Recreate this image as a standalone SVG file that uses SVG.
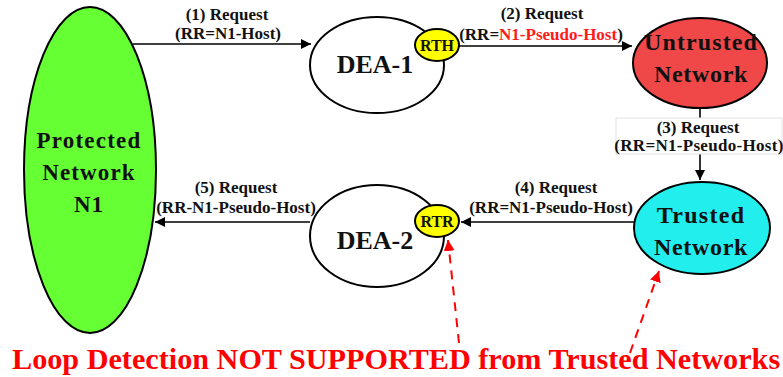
<svg xmlns="http://www.w3.org/2000/svg" width="783" height="377" viewBox="0 0 783 377">
<style>
.node{stroke:#000;stroke-width:2}
.big{font-weight:bold;fill:#111;text-anchor:middle}
.lbl{font-weight:bold;font-size:17px;fill:#111;text-anchor:middle}
.red{fill:#ff1a1a}
.conn{stroke:#000;stroke-width:1.6;fill:none}
.dash{stroke:#ff0000;stroke-width:2;stroke-dasharray:9,7;fill:none}
</style>
<defs>
<marker id="ah" viewBox="0 0 10 10" refX="10" refY="5" markerWidth="10" markerHeight="10" markerUnits="userSpaceOnUse" orient="auto">
<path d="M0,0 L10,5 L0,10 z" fill="#000"/>
</marker>
<marker id="rh" viewBox="0 0 10 10" refX="10" refY="5" markerWidth="11" markerHeight="11" markerUnits="userSpaceOnUse" orient="auto">
<path d="M0,0 L10,5 L0,10 z" fill="#ff0000"/>
</marker>
</defs>
<rect width="783" height="377" fill="#fff"/>
<g font-family="Liberation Serif">
<g id="connectors">
<line class="conn" x1="133" y1="44" x2="311" y2="44" marker-end="url(#ah)"/>
<line class="conn" x1="459" y1="46" x2="632" y2="46" marker-end="url(#ah)"/>
<line class="conn" x1="700" y1="108" x2="700" y2="180" marker-end="url(#ah)"/>
<line class="conn" x1="634" y1="222" x2="461" y2="222" marker-end="url(#ah)"/>
<line class="conn" x1="310" y1="222" x2="155" y2="222" marker-end="url(#ah)"/>
<line class="dash" x1="459" y1="343" x2="448" y2="240" marker-end="url(#rh)"/>
<line class="dash" x1="630" y1="353" x2="659" y2="271" marker-end="url(#rh)"/>
<text class="lbl" x="227" y="20">(1) Request</text>
<text class="lbl" x="228" y="39">(RR=N1-Host)</text>
<text class="lbl" x="542" y="19">(2) Request</text>
<text class="lbl" x="541" y="40">(RR=<tspan class="red">N1-Pseudo-Host</tspan>)</text>
<rect x="616" y="118" width="166" height="36" fill="#fff" stroke="#e2e2e2" stroke-width="1"/>
<text class="lbl" x="698" y="133" font-size="16">(3) Request</text>
<text class="lbl" x="699" y="151" font-size="16" letter-spacing="0.3">(RR=N1-Pseudo-Host)</text>
<text class="lbl" x="556" y="193">(4) Request</text>
<text class="lbl" x="551" y="213">(RR=N1-Pseudo-Host)</text>
<text class="lbl" x="236" y="193">(5) Request</text>
<text class="lbl" x="236" y="213">(RR-N1-Pseudo-Host)</text>
</g>
<g id="protected-n1">
<ellipse class="node" cx="90" cy="170" rx="66" ry="163" fill="#66ff33"/>
<text class="big" x="89" y="148" font-size="23" letter-spacing="1.2">Protected</text>
<text class="big" x="89" y="180" font-size="23" letter-spacing="1.1">Network</text>
<text class="big" x="89" y="212" font-size="23" letter-spacing="1">N1</text>
</g>
<g id="dea-1">
<ellipse class="node" cx="377" cy="65" rx="67" ry="48" fill="#fff"/>
<text class="big" x="375" y="73" font-size="26">DEA-1</text>
</g>
<g id="rth">
<ellipse class="node" cx="437" cy="45" rx="22" ry="16" fill="#ffff00"/>
<text class="big" x="437" y="51" font-size="16">RTH</text>
</g>
<g id="untrusted">
<ellipse class="node" cx="700" cy="63" rx="67" ry="45" fill="#f04848"/>
<text class="big" x="701" y="50" font-size="24" letter-spacing="1.1">Untrusted</text>
<text class="big" x="701" y="82" font-size="24" letter-spacing="0.7">Network</text>
</g>
<g id="trusted">
<ellipse class="node" cx="702" cy="228" rx="68" ry="46" fill="#22eeee"/>
<text class="big" x="701" y="223" font-size="24" letter-spacing="1.3">Trusted</text>
<text class="big" x="701" y="255" font-size="24" letter-spacing="0.7">Network</text>
</g>
<g id="dea-2">
<ellipse class="node" cx="377" cy="236" rx="67" ry="51" fill="#fff"/>
<text class="big" x="375" y="249" font-size="26">DEA-2</text>
</g>
<g id="rtr">
<ellipse class="node" cx="437" cy="221" rx="22" ry="16" fill="#ffff00"/>
<text class="big" x="437" y="227" font-size="16">RTR</text>
</g>
<g id="note">
<text x="12" y="369" font-weight="bold" font-size="30.2" fill="#ff0000">Loop Detection NOT SUPPORTED from Trusted Networks</text>
</g>
</g>
</svg>
